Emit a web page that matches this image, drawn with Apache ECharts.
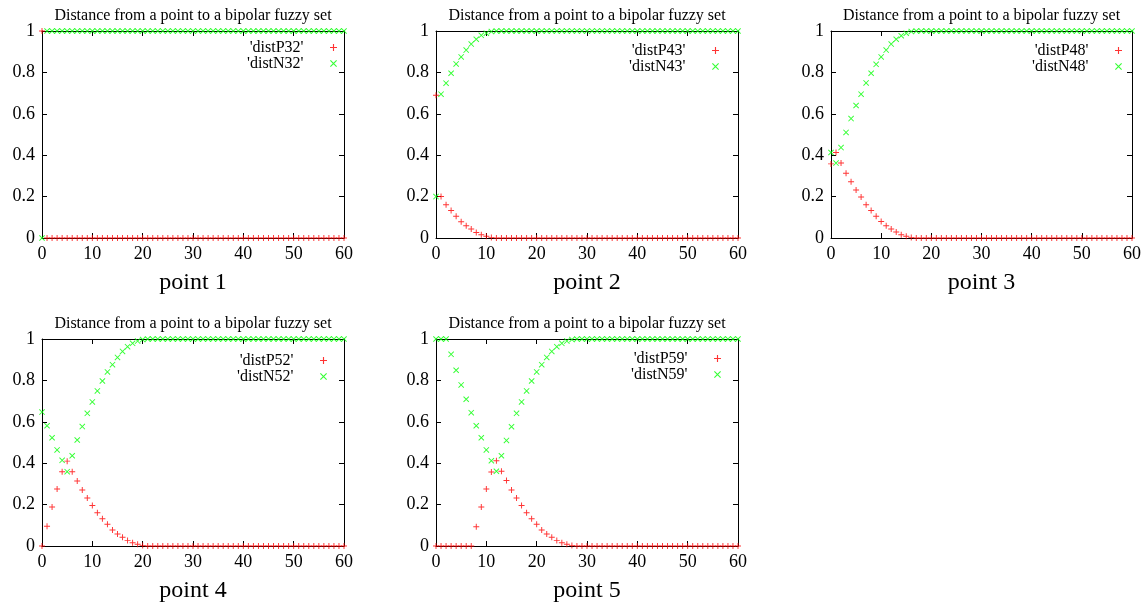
<!DOCTYPE html>
<html>
<head>
<meta charset="utf-8">
<script src="https://cdn.jsdelivr.net/npm/echarts@6/dist/echarts.min.js"></script>
<style>
html, body { margin: 0; padding: 0; background: #fff; }
#chart { width: 1144px; height: 605px; }
</style>
</head>
<body>
<div id="chart"></div>
<script>
// 数据：下标就是横坐标 0..60，每行 10 个
const distP32 = [1, 0, 0, 0, 0, 0, 0, 0, 0, 0,
  0, 0, 0, 0, 0, 0, 0, 0, 0, 0,
  0, 0, 0, 0, 0, 0, 0, 0, 0, 0,
  0, 0, 0, 0, 0, 0, 0, 0, 0, 0,
  0, 0, 0, 0, 0, 0, 0, 0, 0, 0,
  0, 0, 0, 0, 0, 0, 0, 0, 0, 0,
  0];
const distN32 = [0, 1, 1, 1, 1, 1, 1, 1, 1, 1,
  1, 1, 1, 1, 1, 1, 1, 1, 1, 1,
  1, 1, 1, 1, 1, 1, 1, 1, 1, 1,
  1, 1, 1, 1, 1, 1, 1, 1, 1, 1,
  1, 1, 1, 1, 1, 1, 1, 1, 1, 1,
  1, 1, 1, 1, 1, 1, 1, 1, 1, 1,
  1];

const distP43 = [0.69, 0.2, 0.161, 0.133, 0.105, 0.079, 0.059, 0.043, 0.027, 0.016,
  0.008, 0.003, 0, 0, 0, 0, 0, 0, 0, 0,
  0, 0, 0, 0, 0, 0, 0, 0, 0, 0,
  0, 0, 0, 0, 0, 0, 0, 0, 0, 0,
  0, 0, 0, 0, 0, 0, 0, 0, 0, 0,
  0, 0, 0, 0, 0, 0, 0, 0, 0, 0,
  0];
const distN43 = [0.2, 0.695, 0.748, 0.796, 0.841, 0.875, 0.908, 0.937, 0.96, 0.979,
  0.989, 0.997, 1, 1, 1, 1, 1, 1, 1, 1,
  1, 1, 1, 1, 1, 1, 1, 1, 1, 1,
  1, 1, 1, 1, 1, 1, 1, 1, 1, 1,
  1, 1, 1, 1, 1, 1, 1, 1, 1, 1,
  1, 1, 1, 1, 1, 1, 1, 1, 1, 1,
  1];

const distP48 = [0.358, 0.413, 0.362, 0.313, 0.272, 0.232, 0.198, 0.161, 0.133, 0.105,
  0.08, 0.059, 0.043, 0.029, 0.016, 0.008, 0.003, 0, 0, 0,
  0, 0, 0, 0, 0, 0, 0, 0, 0, 0,
  0, 0, 0, 0, 0, 0, 0, 0, 0, 0,
  0, 0, 0, 0, 0, 0, 0, 0, 0, 0,
  0, 0, 0, 0, 0, 0, 0, 0, 0, 0,
  0];
const distN48 = [0.413, 0.362, 0.437, 0.51, 0.577, 0.64, 0.695, 0.749, 0.796, 0.839,
  0.875, 0.908, 0.937, 0.96, 0.977, 0.989, 0.997, 1, 1, 1,
  1, 1, 1, 1, 1, 1, 1, 1, 1, 1,
  1, 1, 1, 1, 1, 1, 1, 1, 1, 1,
  1, 1, 1, 1, 1, 1, 1, 1, 1, 1,
  1, 1, 1, 1, 1, 1, 1, 1, 1, 1,
  1];

const distP52 = [0, 0.095, 0.188, 0.275, 0.359, 0.41, 0.359, 0.314, 0.271, 0.232,
  0.196, 0.161, 0.132, 0.105, 0.077, 0.058, 0.042, 0.026, 0.016, 0.008,
  0.003, 0, 0, 0, 0, 0, 0, 0, 0, 0,
  0, 0, 0, 0, 0, 0, 0, 0, 0, 0,
  0, 0, 0, 0, 0, 0, 0, 0, 0, 0,
  0, 0, 0, 0, 0, 0, 0, 0, 0, 0,
  0];
const distN52 = [0.647, 0.581, 0.523, 0.464, 0.414, 0.359, 0.436, 0.512, 0.577, 0.641,
  0.696, 0.749, 0.797, 0.841, 0.876, 0.911, 0.94, 0.963, 0.979, 0.99,
  0.997, 1, 1, 1, 1, 1, 1, 1, 1, 1,
  1, 1, 1, 1, 1, 1, 1, 1, 1, 1,
  1, 1, 1, 1, 1, 1, 1, 1, 1, 1,
  1, 1, 1, 1, 1, 1, 1, 1, 1, 1,
  1];

const distP59 = [0, 0, 0, 0, 0, 0, 0, 0, 0.093, 0.188,
  0.275, 0.357, 0.412, 0.361, 0.316, 0.271, 0.232, 0.196, 0.161, 0.132,
  0.105, 0.077, 0.058, 0.042, 0.026, 0.016, 0.008, 0.003, 0, 0,
  0, 0, 0, 0, 0, 0, 0, 0, 0, 0,
  0, 0, 0, 0, 0, 0, 0, 0, 0, 0,
  0, 0, 0, 0, 0, 0, 0, 0, 0, 0,
  0];
const distN59 = [1, 1, 1, 0.926, 0.849, 0.778, 0.709, 0.644, 0.581, 0.523,
  0.464, 0.412, 0.361, 0.436, 0.51, 0.576, 0.641, 0.696, 0.749, 0.797,
  0.841, 0.876, 0.911, 0.94, 0.963, 0.979, 0.99, 0.997, 1, 1,
  1, 1, 1, 1, 1, 1, 1, 1, 1, 1,
  1, 1, 1, 1, 1, 1, 1, 1, 1, 1,
  1, 1, 1, 1, 1, 1, 1, 1, 1, 1,
  1];

// 坐标轴刻度
const xMin = 0, xMax = 60, xStep = 10;
const yMin = 0, yMax = 1, yStep = 0.2;

const titleText = 'Distance from a point to a bipolar fuzzy set';
const pointLabels = ['point 1', 'point 2', 'point 3', 'point 4', 'point 5'];
const seriesNames = [
  ["'distP32'", "'distN32'"],
  ["'distP43'", "'distN43'"],
  ["'distP48'", "'distN48'"],
  ["'distP52'", "'distN52'"],
  ["'distP59'", "'distN59'"]
];
const seriesData = [
  [distP32, distN32],
  [distP43, distN43],
  [distP48, distN48],
  [distP52, distN52],
  [distP59, distN59]
];

// 每个小图的位置
const panels = [
  { left: 42, top: 31, legTop: 39.5, legRight: 807 },
  { left: 436, top: 31, legTop: 42.5, legRight: 425 },
  { left: 831, top: 31, legTop: 42.5, legRight: 22 },
  { left: 42, top: 339, legTop: 352.5, legRight: 817 },
  { left: 436, top: 339, legTop: 350.5, legRight: 423 }
];
const plotW = 302, plotH = 207;

const FONT = 'Liberation Serif';
const PLUS = 'path://M4.2,0h1.6v4.2h4.2v1.6h-4.2v4.2h-1.6v-4.2h-4.2v-1.6h4.2z';
const CROSS = 'path://M0,1.1L1.1,0L10,8.9L8.9,10Z M0,8.9L8.9,0L10,1.1L1.1,10Z';
const RED = '#ff0000', GREEN = '#00ff00';

const chart = echarts.init(document.getElementById('chart'));

let option = {
  backgroundColor: '#fff',
  animation: false,
  grid: [], xAxis: [], yAxis: [], legend: [], series: []
};

const axisLine = { show: true, onZero: false, lineStyle: { color: '#000', width: 1 } };
const tick = { show: true, inside: true, length: 5, lineStyle: { color: '#000' } };

panels.forEach((p, i) => {
  option.grid.push({ left: p.left, top: p.top, width: plotW, height: plotH });
  // 下方 x 轴
  option.xAxis.push({
    type: 'value', gridIndex: i, position: 'bottom',
    min: xMin, max: xMax, interval: xStep,
    name: pointLabels[i], nameLocation: 'middle', nameGap: 33,
    nameTextStyle: { fontFamily: FONT, fontSize: 24, color: '#000' },
    axisLine: axisLine, axisTick: tick, splitLine: { show: false },
    axisLabel: { margin: 7, fontFamily: FONT, fontSize: 18, color: '#000' }
  });
  // 上方 x 轴（用作标题）
  option.xAxis.push({
    type: 'value', gridIndex: i, position: 'top',
    min: xMin, max: xMax, interval: xStep,
    name: titleText, nameLocation: 'middle', nameGap: 7,
    nameTextStyle: { fontFamily: FONT, fontSize: 16, color: '#000' },
    axisLine: axisLine, axisTick: tick, splitLine: { show: false },
    axisLabel: { show: false }
  });
  option.yAxis.push({
    type: 'value', gridIndex: i, position: 'left',
    min: yMin, max: yMax, interval: yStep,
    axisLine: axisLine, axisTick: tick, splitLine: { show: false },
    axisLabel: { margin: 7, fontFamily: FONT, fontSize: 18, color: '#000' }
  });
  option.yAxis.push({
    type: 'value', gridIndex: i, position: 'right',
    min: yMin, max: yMax, interval: yStep,
    axisLine: axisLine, axisTick: tick, splitLine: { show: false },
    axisLabel: { show: false }
  });
  option.legend.push({
    orient: 'vertical', align: 'right', selectedMode: false,
    top: p.legTop, right: p.legRight, padding: 0, itemGap: 0,
    itemWidth: 50, itemHeight: 7,
    textStyle: { fontFamily: FONT, fontSize: 16, color: '#000', lineHeight: 15 },
    data: [
      { name: seriesNames[i][0], icon: PLUS },
      { name: seriesNames[i][1], icon: CROSS }
    ]
  });
  const symbols = [PLUS, CROSS];
  const colors = [RED, GREEN];
  seriesData[i].forEach((arr, k) => {
    option.series.push({
      name: seriesNames[i][k],
      type: 'scatter',
      xAxisIndex: i * 2, yAxisIndex: i * 2,
      symbol: symbols[k], symbolSize: 6,
      clip: false,
      itemStyle: { color: colors[k] },
      data: arr.map((v, x) => [x, v])
    });
  });
});

chart.setOption(option);
</script>
</body>
</html>
